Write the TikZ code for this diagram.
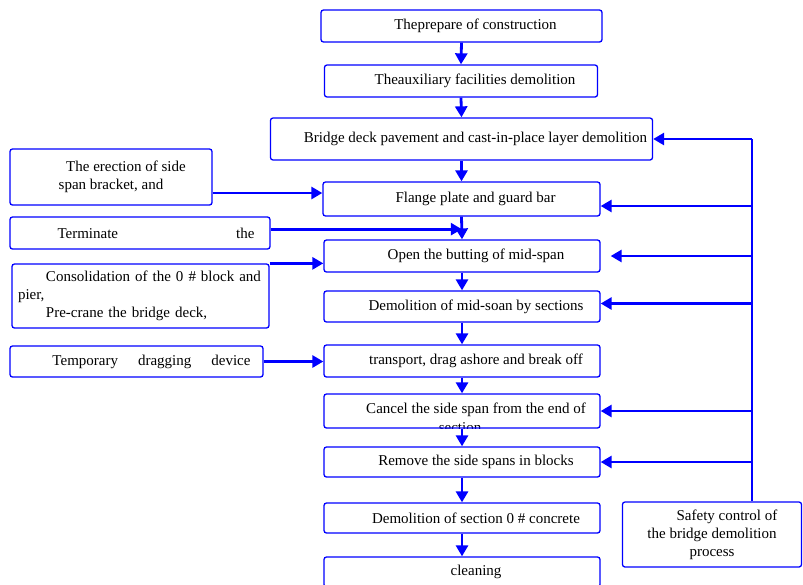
\documentclass[tikz,border=0pt]{standalone}
\usepackage{fontspec}
\setmainfont{Liberation Serif}
\usetikzlibrary{arrows.meta,calc}

\begin{document}
\begin{tikzpicture}[x=1pt, y=-1pt, >={Triangle[length=11pt,width=12pt]},
  box/.style={draw=blue,line width=1.3pt,rounded corners=2.5pt,inner sep=2pt,
    minimum width=276pt,minimum height=32pt,font=\fontsize{15}{18}\selectfont},
  main/.style={box,execute at begin node=\hspace*{28pt}},
  side/.style={box,align=center},
  flow/.style={->,blue,line width=2.8pt},
  rail/.style={blue,line width=1.5pt}]
  \useasboundingbox (0,0) rectangle (803,584);
  % main chain
  \node[main,minimum width=281pt] (b1) at (461.5,26) {Theprepare of construction};
  \node[main,minimum width=273pt] (b2) at (461,81) {Theauxiliary facilities demolition};
  \node[main,minimum width=382pt,minimum height=42pt] (b3) at (461.5,139) {Bridge deck pavement and cast-in-place layer demolition};
  \node[main,minimum width=277pt,minimum height=34pt] (b4) at (461.5,199) {Flange plate and guard bar};
  \node[main] (b5) at (462,256) {Open the butting of mid-span};
  \node[main,minimum height=31pt] (b6) at (462,306.5) {Demolition of mid-soan by sections};
  \node[main] (b7) at (462,361) {transport, drag ashore and break off};
  \node[main,minimum height=34pt,
    path picture={\node[font=\fontsize{15}{18}\selectfont] at ([xshift=-16pt,yshift=-17pt]path picture bounding box.center) {section};}]
    (b8) at (462,411) {\raisebox{5pt}{Cancel the side span from the end of}};
  \node[main,minimum height=30pt] (b9) at (462,462) {Remove the side spans in blocks};
  \node[main,minimum height=30pt] (b10) at (462,518) {Demolition of section 0 \# concrete};
  \node[main,minimum height=30pt] (b11) at (462,572) {cleaning};
  \foreach \i [evaluate=\i as \j using int(\i+1)] in {1,...,10} {
    \draw[flow] (b\i.south) -- (b\j.north);
  }
  % side inputs
  \node[side,minimum width=202pt,minimum height=56pt] (erect) at (111,177) {\hspace*{30pt}The erection of side\\span bracket, and};
  \node[side,minimum width=260pt] (term) at (140,233) {\hspace*{32pt}Terminate\hspace{118pt}the};
  \node[box,minimum width=257pt,minimum height=64pt,align=left,text width=245pt] (cons) at (140.5,296)
    {\hspace*{28pt}Consolidation of the 0 \# block and\\pier,\\\hspace*{28pt}Pre-crane the bridge deck,};
  \node[side,minimum width=253pt,minimum height=31pt] (drag) at (136.5,361.5) {\hspace*{30pt}Temporary\hspace{20pt}dragging\hspace{20pt}device};
  \coordinate (j45) at ($(b4.south)!0.55!(b5.north)$);
  \draw[flow] (erect.east |- 0,193) -- (b4.west |- 0,193);
  \draw[flow] (term.east |- j45) -- (j45);
  \draw[flow] (cons.north east) -- (b5.west |- cons.north east);
  \draw[flow] (drag.east) -- (b7.west |- drag.east);
  % safety control
  \node[side,minimum width=179pt,minimum height=65pt] (safe) at (712,534.5) {\hspace*{30pt}Safety control of\\the bridge demolition\\process};
  \coordinate (top) at (752,139);
  \draw[rail] (top) -- (top |- safe.north);
  \foreach \n/\dy in {b3/0, b4/-7, b6/3, b8/0, b9/0} {
    \draw[flow] ([yshift=\dy pt]\n.east -| top) -- ([yshift=\dy pt]\n.east);
  }
  \draw[flow,shorten >=10pt] (b5.east -| top) -- (b5.east);
\end{tikzpicture}
\end{document}
